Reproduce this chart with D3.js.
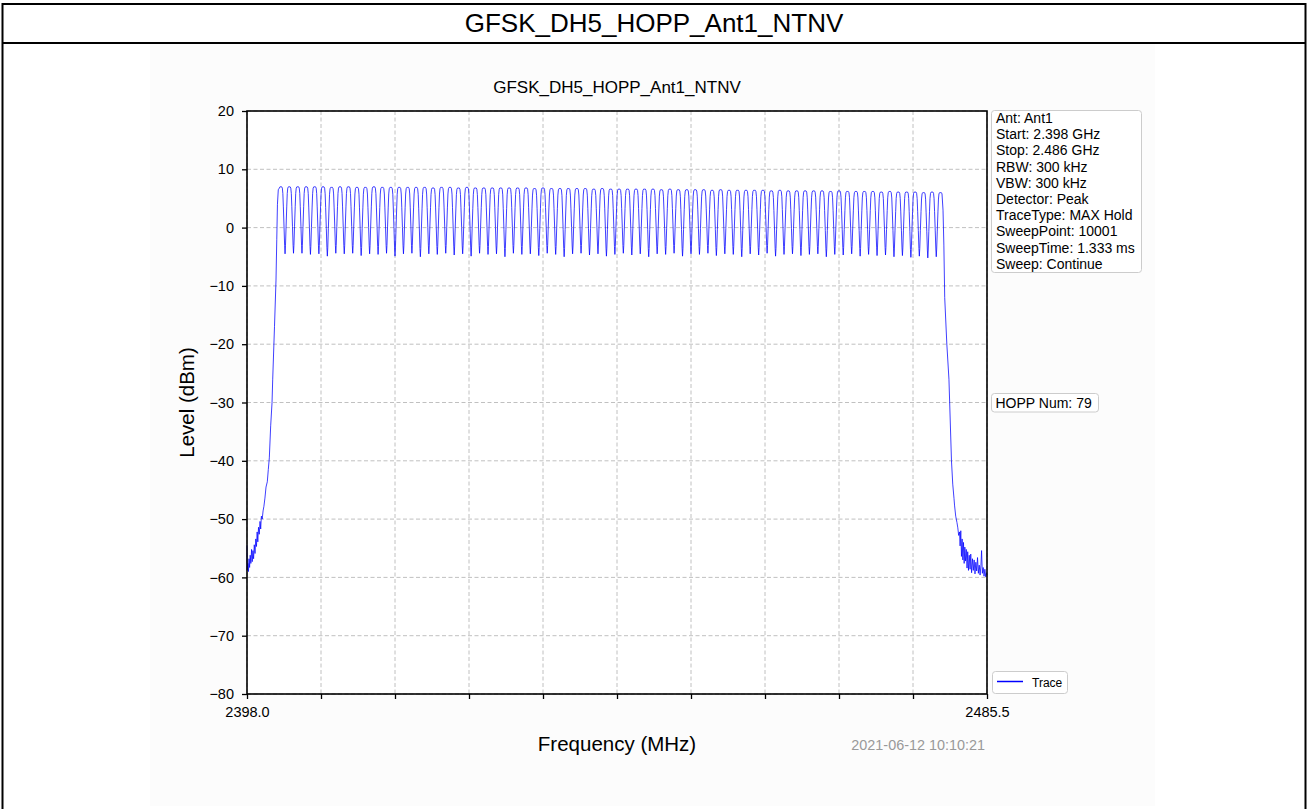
<!DOCTYPE html>
<html>
<head>
<meta charset="utf-8">
<script src="https://cdn.jsdelivr.net/npm/d3@7"></script>
<style>
body { margin: 0; background: #fff; }
text { font-family: "Liberation Sans", Arial, sans-serif; }
</style>
</head>
<body>
<div id="root"></div>
<script>
// ---- data ----
const pageTitle = 'GFSK_DH5_HOPP_Ant1_NTNV';
const chartTitle = 'GFSK_DH5_HOPP_Ant1_NTNV';
const xLabel = 'Frequency (MHz)';
const yLabel = 'Level (dBm)';
const timeStamp = '2021-06-12 10:10:21';
const hoppLabel = 'HOPP Num: 79';
const legendLabel = 'Trace';
const infoLines = [
    'Ant: Ant1', 'Start: 2.398 GHz', 'Stop: 2.486 GHz', 'RBW: 300 kHz', 'VBW: 300 kHz',
    'Detector: Peak', 'TraceType: MAX Hold', 'SweepPoint: 10001', 'SweepTime: 1.333 ms', 'Sweep: Continue'
];

const xDomain = [2398.0, 2485.5];
const yDomain = [-80, 20];
const xTickValues = [2398.0, 2406.75, 2415.5, 2424.25, 2433.0, 2441.75, 2450.5, 2459.25, 2468.0, 2476.75, 2485.5];
const xTickLabels = ['2398.0', '', '', '', '', '', '', '', '', '', '2485.5'];
const yTickValues = [20, 10, 0, -10, -20, -30, -40, -50, -60, -70, -80];

// hopping channel centres (MHz)
const channelMHz = [
    2402, 2403, 2404, 2405, 2406, 2407, 2408, 2409, 2410, 2411,
    2412, 2413, 2414, 2415, 2416, 2417, 2418, 2419, 2420, 2421,
    2422, 2423, 2424, 2425, 2426, 2427, 2428, 2429, 2430, 2431,
    2432, 2433, 2434, 2435, 2436, 2437, 2438, 2439, 2440, 2441,
    2442, 2443, 2444, 2445, 2446, 2447, 2448, 2449, 2450, 2451,
    2452, 2453, 2454, 2455, 2456, 2457, 2458, 2459, 2460, 2461,
    2462, 2463, 2464, 2465, 2466, 2467, 2468, 2469, 2470, 2471,
    2472, 2473, 2474, 2475, 2476, 2477, 2478, 2479, 2480
];
// peak level of each channel (dBm)
const peakLevels = [
    7.0, 7.0, 7.0, 7.0, 7.0, 7.0, 6.9, 7.0, 7.0, 6.9,
    6.9, 7.0, 6.9, 6.9, 6.9, 6.9, 6.9, 6.9, 6.8, 6.9,
    6.9, 6.8, 6.9, 6.8, 6.8, 6.8, 6.8, 6.8, 6.8, 6.8,
    6.7, 6.8, 6.7, 6.7, 6.7, 6.7, 6.7, 6.6, 6.7, 6.6,
    6.6, 6.6, 6.6, 6.6, 6.6, 6.5, 6.6, 6.5, 6.5, 6.5,
    6.5, 6.4, 6.5, 6.4, 6.4, 6.4, 6.4, 6.4, 6.3, 6.4,
    6.3, 6.3, 6.3, 6.3, 6.3, 6.2, 6.3, 6.2, 6.2, 6.2,
    6.2, 6.1, 6.2, 6.1, 6.1, 6.1, 6.0, 6.1, 6.0
];
// level of the dip between neighbouring channels (dBm)
const dipLevels = [
    -4.5, -4.4, -4.4, -4.6, -4.5, -4.9, -4.4, -4.5, -4.4, -4.8,
    -4.5, -4.6, -4.4, -4.9, -4.5, -4.4, -5.0, -4.5, -4.6, -4.4,
    -4.7, -4.5, -4.9, -4.4, -4.6, -4.5, -5.0, -4.4, -4.6, -4.5,
    -4.8, -4.4, -4.6, -5.0, -4.5, -4.4, -4.7, -4.5, -4.9, -4.6,
    -4.4, -4.7, -4.5, -5.0, -4.5, -4.6, -4.4, -4.9, -4.5, -4.6,
    -4.4, -4.8, -4.5, -4.6, -5.0, -4.5, -4.7, -4.4, -4.9, -4.6,
    -4.5, -4.8, -4.6, -4.5, -5.0, -4.6, -4.7, -4.5, -4.9, -4.6,
    -4.8, -4.7, -5.0, -4.8, -5.1, -4.9, -5.2, -5.0
];
// measured shape of one hop: [offset from centre (MHz), fraction of the way from peak to dip]
const hopShape = [
    [0, 0], [0.1, 0], [0.18, 0.02], [0.24, 0.1], [0.3, 0.3], [0.38, 0.6], [0.45, 0.88], [0.5, 1]
];
// band edge skirts [MHz, dBm]
const leftSkirt = [
    [2398.00, -54.5], [2398.03, -58.8], [2398.10, -57.6], [2398.17, -59.0], [2398.24, -56.8],
    [2398.31, -58.3], [2398.38, -56.2], [2398.46, -57.6], [2398.54, -55.2], [2398.62, -57.3],
    [2398.70, -55.4], [2398.78, -56.8], [2398.86, -54.4], [2398.95, -55.9], [2399.04, -53.4],
    [2399.12, -54.7], [2399.20, -52.2], [2399.28, -53.9], [2399.36, -51.4], [2399.45, -52.6],
    [2399.54, -50.4], [2399.62, -51.7], [2399.70, -49.5], [2399.80, -50.0], [2399.90, -48.6],
    [2400.00, -47.8], [2400.12, -46.4], [2400.25, -44.5], [2400.40, -43.6], [2400.52, -41.5],
    [2400.64, -39.5], [2400.80, -34.0], [2400.96, -30.0], [2401.04, -26.0], [2401.25, -17.0],
    [2401.43, -9.0], [2401.52, -2.0], [2401.60, 4.0], [2401.70, 6.5]
];
const rightSkirt = [
    [2480.30, 3.0], [2480.40, -3.0], [2480.50, -12.0], [2480.75, -20.0], [2481.00, -26.0],
    [2481.15, -33.0], [2481.30, -40.0], [2481.45, -44.0], [2481.60, -46.5], [2481.66, -47.6],
    [2481.80, -49.5], [2481.95, -50.6], [2482.05, -51.5], [2482.15, -52.8], [2482.25, -52.2],
    [2482.32, -54.6], [2482.40, -52.0], [2482.48, -56.4], [2482.56, -53.4], [2482.64, -57.0],
    [2482.72, -54.0], [2482.80, -57.6], [2482.88, -54.8], [2482.96, -57.2], [2483.05, -55.2],
    [2483.14, -58.4], [2483.22, -55.6], [2483.31, -58.8], [2483.40, -56.2], [2483.50, -58.6],
    [2483.58, -56.0], [2483.68, -59.2], [2483.78, -56.8], [2483.88, -58.8], [2483.98, -57.0],
    [2484.08, -59.4], [2484.18, -57.4], [2484.28, -58.9], [2484.38, -56.6], [2484.48, -59.3],
    [2484.58, -57.9], [2484.68, -59.6], [2484.78, -58.0], [2484.86, -55.4], [2484.95, -59.3],
    [2485.05, -58.3], [2485.15, -59.8], [2485.25, -58.6], [2485.35, -59.9], [2485.45, -59.2],
    [2485.50, -59.6]
];

// ---- build the trace from the pieces above ----
const trace = [];
leftSkirt.forEach(p => trace.push(p));
channelMHz.forEach((c, i) => {
    const pk = peakLevels[i];
    const isFirst = i === 0;
    const isLast = i === channelMHz.length - 1;
    const dl = isFirst ? dipLevels[0] : dipLevels[i - 1];
    const dr = isLast ? dipLevels[dipLevels.length - 1] : dipLevels[i];
    // rising side
    for (let k = hopShape.length - 2; k >= 1; k--) {
        const [off, f] = hopShape[k];
        if (isFirst && off > 0.18) continue;
        trace.push([c - off, pk - f * (pk - dl)]);
    }
    trace.push([c, pk]);
    // falling side (includes the dip)
    for (let k = 1; k < hopShape.length; k++) {
        const [off, f] = hopShape[k];
        if (isLast && off > 0.18) continue;
        trace.push([c + off, pk - f * (pk - dr)]);
    }
});
rightSkirt.forEach(p => trace.push(p));

// ---- layout ----
const W = 1308, H = 809;
const plot = { left: 247, right: 987, top: 111, bottom: 694 };

const svg = d3.select('#root')
    .append('svg')
    .attr('width', W)
    .attr('height', H);

// page frame + header
svg.append('rect')
    .attr('x', 150).attr('y', 44)
    .attr('width', 1005).attr('height', 762)
    .attr('fill', '#fcfcfc');
svg.append('line').attr('x1', 2.5).attr('x2', 1305.5).attr('y1', 4).attr('y2', 4)
    .attr('stroke', '#000').attr('stroke-width', 2);
svg.append('line').attr('x1', 2.5).attr('x2', 1305.5).attr('y1', 43).attr('y2', 43)
    .attr('stroke', '#000').attr('stroke-width', 2);
svg.append('line').attr('x1', 2.5).attr('x2', 2.5).attr('y1', 3).attr('y2', H)
    .attr('stroke', '#000').attr('stroke-width', 2);
svg.append('line').attr('x1', 1305.5).attr('x2', 1305.5).attr('y1', 3).attr('y2', H)
    .attr('stroke', '#000').attr('stroke-width', 2);
svg.append('text')
    .attr('x', W / 2).attr('y', 32)
    .attr('text-anchor', 'middle')
    .attr('font-size', '26px')
    .attr('fill', '#000')
    .text(pageTitle);

// scales
const x = d3.scaleLinear().domain(xDomain).range([plot.left, plot.right]);
const y = d3.scaleLinear().domain(yDomain).range([plot.bottom, plot.top]);

// plot background
svg.append('rect')
    .attr('x', plot.left).attr('y', plot.top)
    .attr('width', plot.right - plot.left).attr('height', plot.bottom - plot.top)
    .attr('fill', '#fff');

// grid
const grid = svg.append('g').attr('stroke', '#b0b0b0').attr('stroke-width', 0.8)
    .attr('stroke-dasharray', '4,2.5');
grid.selectAll('.vg')
    .data(xTickValues)
    .enter().append('line')
    .attr('x1', d => x(d)).attr('x2', d => x(d))
    .attr('y1', plot.top).attr('y2', plot.bottom);
grid.selectAll('.hg')
    .data(yTickValues)
    .enter().append('line')
    .attr('x1', plot.left).attr('x2', plot.right)
    .attr('y1', d => y(d)).attr('y2', d => y(d));

// trace
const line = d3.line()
    .x(d => x(d[0]))
    .y(d => y(d[1]));
svg.append('path')
    .datum(trace)
    .attr('d', line)
    .attr('fill', 'none')
    .attr('stroke', '#0000ff')
    .attr('stroke-width', 0.75)
    .attr('stroke-linejoin', 'round');

// axes
const xAxis = d3.axisBottom(x)
    .tickValues(xTickValues)
    .tickFormat((d, i) => xTickLabels[i])
    .tickSize(5).tickPadding(8);
const yAxis = d3.axisLeft(y)
    .tickValues(yTickValues)
    .tickFormat(d3.format('d'))
    .tickSize(5).tickPadding(8);

const gx = svg.append('g')
    .attr('transform', `translate(0,${plot.bottom})`)
    .call(xAxis);
const gy = svg.append('g')
    .attr('transform', `translate(${plot.left},0)`)
    .call(yAxis);
[gx, gy].forEach(g => {
    g.select('.domain').remove();
    g.selectAll('.tick line').attr('stroke', '#000').attr('stroke-width', 1.3);
    g.selectAll('.tick text')
        .attr('font-family', '"Liberation Sans", Arial, sans-serif')
        .attr('font-size', '14.5px')
        .attr('fill', '#000');
});

// spines
svg.append('rect')
    .attr('x', plot.left).attr('y', plot.top)
    .attr('width', plot.right - plot.left).attr('height', plot.bottom - plot.top)
    .attr('fill', 'none')
    .attr('stroke', '#000')
    .attr('stroke-width', 1.6);

// titles and labels
svg.append('text')
    .attr('x', (plot.left + plot.right) / 2).attr('y', 93)
    .attr('text-anchor', 'middle')
    .attr('font-size', '17px')
    .text(chartTitle);
svg.append('text')
    .attr('text-anchor', 'middle')
    .attr('font-size', '20.5px')
    .attr('transform', `translate(${(plot.left + plot.right) / 2}, 751)`)
    .text(xLabel);
svg.append('text')
    .attr('text-anchor', 'middle')
    .attr('font-size', '20.5px')
    .attr('transform', `translate(194, ${(plot.top + plot.bottom) / 2})rotate(-90)`)
    .text(yLabel);
svg.append('text')
    .attr('x', 985).attr('y', 750)
    .attr('text-anchor', 'end')
    .attr('font-size', '14.4px')
    .attr('fill', '#999')
    .text(timeStamp);

// info box
const info = svg.append('g').attr('transform', 'translate(991.5,110.5)');
info.append('rect')
    .attr('width', 150).attr('height', 162).attr('rx', 3)
    .attr('fill', '#fff').attr('stroke', '#cccccc');
info.selectAll('text')
    .data(infoLines)
    .enter().append('text')
    .attr('x', 4.5)
    .attr('y', (d, i) => 12.5 + i * 16.2)
    .attr('font-size', '14px')
    .attr('fill', '#000')
    .text(d => d);

// hopping number box
const hop = svg.append('g').attr('transform', 'translate(991.5,393.5)');
hop.append('rect')
    .attr('width', 107).attr('height', 18.5).attr('rx', 3)
    .attr('fill', '#fff').attr('stroke', '#cccccc');
hop.append('text')
    .attr('x', 4).attr('y', 14)
    .attr('font-size', '14px')
    .text(hoppLabel);

// legend
const legend = svg.append('g').attr('transform', 'translate(992.5,671.5)');
legend.append('rect')
    .attr('width', 75).attr('height', 22).attr('rx', 3)
    .attr('fill', '#fff').attr('stroke', '#cccccc');
legend.append('line')
    .attr('x1', 4.5).attr('x2', 30.5).attr('y1', 10).attr('y2', 10)
    .attr('stroke', '#0000ff').attr('stroke-width', 1.5);
legend.append('text')
    .attr('x', 39.5).attr('y', 15)
    .attr('font-size', '12px')
    .text(legendLabel);
</script>
</body>
</html>
